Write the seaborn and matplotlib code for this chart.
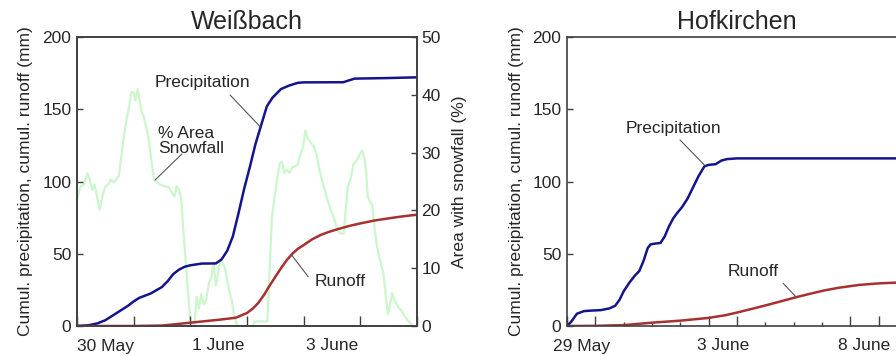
import numpy as np
import pandas as pd
import matplotlib
matplotlib.use("Agg")
import matplotlib.pyplot as plt
import seaborn as sns

# ---- Weissbach (days since 30 May 00:00) ----
wb_prec_day = [0.0, 0.2, 0.36, 0.5, 0.7, 0.9, 1.0, 1.1, 1.3, 1.5, 1.6, 1.7, 1.8, 1.9, 2.0,
               2.2, 2.45, 2.55, 2.65, 2.75, 2.85, 2.95, 3.05, 3.15, 3.25, 3.35, 3.45, 3.6,
               3.75, 3.9, 4.0, 4.7, 4.8, 4.9, 5.5, 6.0]
wb_prec_mm = [0.0, 0.5, 1.8, 4.0, 9.0, 14.0, 17.0, 19.5, 22.5, 27.0, 31.0, 36.0, 39.0, 41.0, 42.0,
              43.2, 43.3, 46.0, 52.0, 62.0, 78.0, 95.0, 110.0, 126.0, 139.0, 152.0, 158.0, 164.0,
              166.5, 168.3, 168.6, 168.7, 170.0, 171.2, 171.6, 172.1]

wb_runoff_day = [0.0, 1.0, 1.5, 2.0, 2.5, 2.8, 3.0, 3.1, 3.2, 3.3, 3.4, 3.5, 3.6, 3.7, 3.8,
                 3.9, 4.0, 4.15, 4.3, 4.45, 4.6, 4.8, 5.0, 5.25, 5.5, 5.75, 6.0]
wb_runoff_mm = [0.0, 0.0, 0.3, 2.3, 4.3, 5.7, 9.0, 12.0, 16.0, 21.5, 28.0, 34.0, 40.0, 45.5, 50.0,
                53.5, 56.0, 60.0, 63.0, 65.2, 67.0, 69.2, 71.0, 73.0, 74.5, 75.9, 77.0]

wb_snow_day = [0.00, 0.06, 0.12, 0.18, 0.22, 0.27, 0.31, 0.36, 0.40, 0.45, 0.50, 0.55, 0.60, 0.65,
               0.70, 0.74, 0.79, 0.83, 0.88, 0.92, 0.96, 1.00, 1.03, 1.07, 1.10, 1.14, 1.18, 1.23,
               1.27, 1.32, 1.36, 1.42, 1.48, 1.55, 1.62, 1.68, 1.72, 1.76, 1.80, 1.84, 1.88, 1.92,
               1.96, 2.00, 2.03, 2.07, 2.11, 2.15, 2.19, 2.24, 2.28, 2.33, 2.37, 2.41, 2.45, 2.49,
               2.53, 2.57, 2.61, 2.65, 2.69, 2.73, 2.77, 2.81, 2.85, 3.10, 3.14, 3.36, 3.40, 3.44,
               3.49, 3.54, 3.58, 3.62, 3.66, 3.70, 3.75, 3.80, 3.85, 3.90, 3.95, 3.99, 4.03, 4.07,
               4.12, 4.18, 4.23, 4.28, 4.32, 4.36, 4.40, 4.44, 4.48, 4.52, 4.56, 4.60, 4.66, 4.71,
               4.74, 4.78, 4.83, 4.88, 4.93, 4.98, 5.03, 5.07, 5.10, 5.13, 5.17, 5.21, 5.25, 5.29,
               5.33, 5.37, 5.41, 5.45, 5.49, 5.53, 5.56, 5.60, 5.64, 5.68, 5.72, 5.77, 5.82, 5.88,
               5.93, 6.00]
wb_snow_pct = [21.8, 24.1, 24.5, 26.4, 25.5, 23.5, 24.5, 22.0, 20.1, 22.5, 24.1, 24.5, 25.3, 24.8,
               25.5, 26.0, 30.0, 33.0, 36.0, 38.0, 40.5, 40.3, 39.0, 41.0, 39.5, 37.0, 36.2, 34.0,
               32.0, 28.0, 25.3, 24.8, 24.4, 24.2, 24.0, 23.0, 22.4, 24.2, 23.5, 22.0, 16.0, 11.0,
               6.0, 1.0, 0.0, 0.0, 5.0, 3.0, 5.5, 3.8, 4.5, 7.5, 8.5, 11.0, 7.0, 9.0,
               11.5, 11.0, 10.0, 8.0, 6.0, 4.5, 2.0, 0.5, 0.0, 0.0, 0.8, 0.8, 10.0, 19.0,
               22.5, 26.0, 28.2, 28.4, 26.5, 27.0, 26.5, 27.5, 27.6, 28.0, 30.0, 31.0, 33.8, 32.5,
               31.8, 31.0, 29.5, 27.0, 25.3, 24.0, 22.5, 21.2, 20.0, 19.0, 17.8, 16.5, 16.0, 16.0,
               20.0, 24.1, 25.5, 28.0, 28.5, 29.5, 30.4, 29.0, 27.0, 22.4, 21.5, 21.0, 17.0, 14.0,
               12.0, 10.5, 9.0, 5.0, 2.0, 4.0, 5.7, 4.5, 3.8, 3.0, 2.8, 1.8, 1.2, 0.5,
               0.0, 0.0]

# ---- Hofkirchen (days since 29 May 00:00) ----
hk_prec_day = [0.0, 0.15, 0.35, 0.6, 0.8, 1.2, 1.5, 1.7, 1.85, 2.0, 2.2, 2.4, 2.55, 2.7, 2.85,
               2.95, 3.1, 3.3, 3.45, 3.6, 3.75, 3.9, 4.05, 4.25, 4.45, 4.65, 4.85, 5.0, 5.25,
               5.45, 5.65, 6.0, 12.0]
hk_prec_mm = [0.0, 3.0, 8.5, 10.3, 10.6, 11.0, 12.2, 14.0, 18.0, 24.0, 30.0, 35.0, 38.0, 45.0, 54.0,
              56.5, 57.0, 57.5, 62.0, 69.0, 74.5, 78.5, 82.0, 88.0, 96.0, 104.0, 110.5, 111.5, 112.0,
              114.5, 115.5, 116.0, 116.0]

hk_runoff_day = [0.0, 1.0, 2.0, 3.0, 4.0, 5.0, 5.6, 6.0, 6.8, 7.5, 8.1, 8.6, 9.1, 9.6, 10.3,
                 11.0, 11.6, 12.0]
hk_runoff_mm = [0.0, 0.1, 0.6, 2.3, 3.7, 5.6, 7.5, 9.3, 13.2, 16.8, 20.0, 22.4, 24.7, 26.5, 28.4,
                29.5, 30.0, 30.3]

wb_labels = ["30 May", "1 June", "3 June"]
wb_label_days = [0.5, 2.5, 4.5]
wb_long_ticks = [0, 1, 2, 3, 4, 5, 6]
wb_short_ticks = []

hk_labels = ["29 May", "3 June", "8 June"]
hk_label_days = [0.5, 5.5, 10.5]
hk_long_ticks = [0, 1, 5, 6, 10, 11, 12]
hk_short_ticks = [2, 3, 4, 7, 8, 9]

PREC_COL = "#14148c"
RUN_COL = "#a83030"
SNOW_COL = "#ccf6cc"
SPINE_COL = "#404040"
FS = 12.5

sns.set_style("ticks")
plt.rcParams["font.family"] = ["Liberation Sans", "DejaVu Sans"]
plt.rcParams["font.size"] = FS

fig = plt.figure(figsize=(8.96, 3.56), dpi=100)
ax1 = fig.add_axes([77 / 896, 30 / 356, 340 / 896, 289 / 356])
ax3 = fig.add_axes([567 / 896, 30 / 356, 340 / 896, 289 / 356])


def style_axis(ax, ndays, labels, label_pos, long_ticks, short_ticks):
    ax.set_xlim(0, ndays)
    ax.set_ylim(0, 200)
    ax.set_yticks([0, 50, 100, 150, 200])
    # labels sit in the middle of a day, tick marks at day boundaries
    ax.set_xticks(label_pos, labels)
    ax.set_xticks(long_ticks, minor=True)
    ax.tick_params(axis="x", which="major", length=0, pad=9, labelsize=FS)
    ax.tick_params(axis="x", which="minor", direction="in", length=7, width=1, color=SPINE_COL)
    ax.tick_params(axis="y", direction="in", length=4.5, width=1, color=SPINE_COL,
                   pad=4, labelsize=FS)
    if short_ticks:
        sec = ax.secondary_xaxis("bottom")
        sec.set_xticks(short_ticks)
        sec.tick_params(direction="in", length=3, width=1, color=SPINE_COL, labelbottom=False)
        sec.spines["bottom"].set_visible(False)
    for s in ax.spines.values():
        s.set_color(SPINE_COL)
        s.set_linewidth(1.2)
    ax.set_xlabel("")


# ---- left panel ----
ax2 = ax1.twinx()
sns.lineplot(x=wb_snow_day, y=wb_snow_pct, ax=ax2, color=SNOW_COL, lw=1.6)
ax2.set_ylim(0, 50)
ax2.set_yticks([0, 10, 20, 30, 40, 50])
ax2.tick_params(axis="y", direction="in", length=4.5, width=1, color=SPINE_COL, pad=3, labelsize=FS)
ax2.set_ylabel("Area with snowfall (%)", fontsize=FS, labelpad=8)
ax1.set_zorder(ax2.get_zorder() + 1)
ax1.patch.set_visible(False)

sns.lineplot(x=wb_prec_day, y=wb_prec_mm, ax=ax1, color=PREC_COL, lw=1.8)
sns.lineplot(x=wb_runoff_day, y=wb_runoff_mm, ax=ax1, color=RUN_COL, lw=1.8)
style_axis(ax1, 6, wb_labels, wb_label_days, wb_long_ticks, wb_short_ticks)
for s in ax2.spines.values():
    s.set_color(SPINE_COL)
    s.set_linewidth(1.2)
ax1.set_ylabel("Cumul. precipitation, cumul. runoff (mm)", fontsize=FS, labelpad=7)
ax1.set_title("Weißbach", fontsize=18, pad=6)

lead = dict(color="#555555", lw=0.8)
ax1.text(2.22, 168.2, "Precipitation", ha="center", va="center", fontsize=FS)
ax1.plot([2.70, 3.23], [159.9, 138.0], **lead)
ax1.text(1.43, 128, "% Area\nSnowfall", ha="left", va="center", fontsize=FS, linespacing=1.0)
ax1.plot([1.85, 1.376], [119.0, 101.0], **lead)
ax1.text(4.64, 30.7, "Runoff", ha="center", va="center", fontsize=FS)
ax1.plot([4.08, 3.79], [34.1, 49.0], **lead)

# ---- right panel ----
sns.lineplot(x=hk_prec_day, y=hk_prec_mm, ax=ax3, color=PREC_COL, lw=1.8)
sns.lineplot(x=hk_runoff_day, y=hk_runoff_mm, ax=ax3, color=RUN_COL, lw=1.8)
style_axis(ax3, 12, hk_labels, hk_label_days, hk_long_ticks, hk_short_ticks)
ax3.set_ylabel("Cumul. precipitation, cumul. runoff (mm)", fontsize=FS, labelpad=6)
ax3.set_title("Hofkirchen", fontsize=18, pad=6)
ax3.text(3.75, 136.8, "Precipitation", ha="center", va="center", fontsize=FS)
ax3.plot([3.99, 4.87], [128.7, 111.0], **lead)
ax3.text(6.58, 37.6, "Runoff", ha="center", va="center", fontsize=FS)
ax3.plot([7.63, 8.11], [29.5, 19.6], **lead)

fig.savefig("out.png", dpi=100)
